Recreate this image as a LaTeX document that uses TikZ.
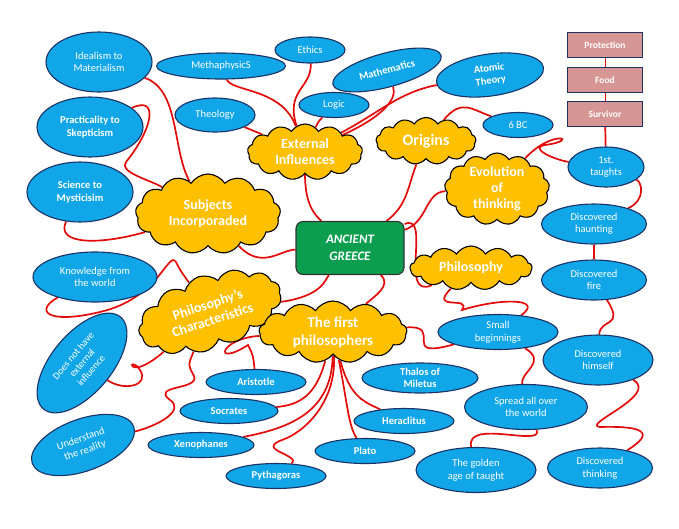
\documentclass[tikz,border=0pt]{standalone}
\usepackage{fontspec}
\setmainfont{Carlito}
\usetikzlibrary{shapes.geometric,shapes.symbols}
\pgfdeclarelayer{background}
\pgfsetlayers{background,main}
\definecolor{skyb}{RGB}{16,166,232}
\definecolor{navy}{RGB}{28,50,100}
\definecolor{gold}{RGB}{255,192,0}
\definecolor{rose}{RGB}{214,150,148}
\definecolor{grn}{RGB}{10,158,78}
\definecolor{redc}{RGB}{228,10,10}
\begin{document}
\begin{tikzpicture}[x=1pt,y=-1pt,
  bub/.style={ellipse, draw=navy, line width=1.1pt, fill=skyb, text=white, font=\fontsize{10.5}{12.5}\selectfont, align=center, inner sep=0pt},
  bbub/.style={bub, font=\fontsize{10.5}{12.5}\selectfont\bfseries},
  cld/.style={cloud, cloud puffs=13, cloud puff arc=115, cloud ignores aspect, draw=black, line width=1.1pt, fill=gold, text=white, font=\fontsize{14}{16}\selectfont\bfseries, align=center, inner sep=0pt},
  rbox/.style={rectangle, draw=navy, line width=1.1pt, fill=rose, text=white, font=\fontsize{9.5}{11}\selectfont\bfseries, minimum width=75pt, minimum height=25pt},
  conn/.style={draw=redc, line width=1.7pt},
  thin conn/.style={draw=redc, line width=0.7pt}]
\begin{pgfonlayer}{background}
\useasboundingbox[fill=white] (0,0) rectangle (679,528);
\end{pgfonlayer}

% ---------- nodes ----------
\node[bub, minimum width=106pt, minimum height=60pt] (ideal) at (99,62) {Idealism to\\Materialism};
\node[bub, minimum width=129pt, minimum height=26pt] (meta) at (221,66) {MethaphysicS};
\node[bub, minimum width=70pt, minimum height=26pt] (ethics) at (310,50) {Ethics};
\node[bbub, minimum width=112pt, minimum height=34pt, rotate=15] (math) at (387,70) {Mathematics};
\node[bbub, minimum width=108pt, minimum height=42pt, rotate=8] (atomic) at (490,75) {Atomic\\Theory};
\node[bub, minimum width=70pt, minimum height=25pt] (logic) at (334,105) {Logic};
\node[bub, minimum width=80pt, minimum height=34pt] (theo) at (215,115) {Theology};
\node[bbub, minimum width=106pt, minimum height=60pt] (pract) at (90,127) {Practicality to\\Skepticism};
\node[bbub, minimum width=106pt, minimum height=60pt] (sci) at (80,192) {Science to\\Mysticisim};
\node[bub, minimum width=124pt, minimum height=50pt] (know) at (95,277) {Knowledge from\\the world};
\node[bub, minimum width=120pt, minimum height=60pt, rotate=50, font=\fontsize{10}{11.5}\selectfont] (does) at (82,363) {Does not have\\external\\influence};
\node[bub, minimum width=108pt, minimum height=52pt, rotate=20] (under) at (83,445) {Understand\\the reality};
\node[bbub, minimum width=100pt, minimum height=25pt] (arist) at (256,382) {Aristotle};
\node[bbub, minimum width=98pt, minimum height=25pt] (socr) at (229,411) {Socrates};
\node[bbub, minimum width=106pt, minimum height=25pt] (xeno) at (201,445) {Xenophanes};
\node[bbub, minimum width=100pt, minimum height=25pt] (pyth) at (276,476) {Pythagoras};
\node[bbub, minimum width=100pt, minimum height=25pt] (plato) at (365,451) {Plato};
\node[bbub, minimum width=100pt, minimum height=25pt] (hera) at (404,421) {Heraclitus};
\node[bbub, minimum width=116pt, minimum height=30pt] (thal) at (420,378) {Thalos of\\Miletus};
\node[bub, minimum width=120pt, minimum height=35pt] (small) at (498,332) {Small\\beginnings};
\node[bub, minimum width=123pt, minimum height=45pt] (spread) at (526,407) {Spread all over\\the world};
\node[bub, minimum width=120pt, minimum height=45pt] (golden) at (476,470) {The golden\\age of taught};
\node[bub, minimum width=105pt, minimum height=40pt] (dthink) at (600,468) {Discovered\\thinking};
\node[bub, minimum width=110pt, minimum height=50pt] (dhim) at (598,360) {Discovered\\himself};
\node[bub, minimum width=105pt, minimum height=40pt] (dfire) at (594,280) {Discovered\\fire};
\node[bub, minimum width=105pt, minimum height=40pt] (dhaunt) at (594,224) {Discovered\\haunting};
\node[bub, minimum width=76pt, minimum height=40pt] (first) at (606,167) {1st.\\taughts};
\node[bub, minimum width=70pt, minimum height=25pt] (bc) at (518,125) {6 BC};
\node[rbox] (prot) at (605,45) {Protection};
\node[rbox] (food) at (605,80) {Food};
\node[rbox] (surv) at (605,114) {Survivor};

\node[cld, minimum width=115pt, minimum height=56pt] (ext) at (305,152) {External\\Influences};
\node[cld, minimum width=100pt, minimum height=47pt, font=\fontsize{16}{18}\selectfont\bfseries] (orig) at (426,141) {Origins};
\node[cld, minimum width=105pt, minimum height=72pt] (evol) at (497,189) {Evolution\\of\\thinking};
\node[cld, minimum width=145pt, minimum height=80pt] (subj) at (208,214) {Subjects\\Incorporaded};
\node[cld, minimum width=122pt, minimum height=44pt] (philo) at (471,268) {Philosophy};
\node[cld, minimum width=148pt, minimum height=74pt, rotate=18] (pchar) at (210,312) {Philosophy’s\\Characteristics};
\node[cld, minimum width=148pt, minimum height=62pt, font=\fontsize{15}{18}\selectfont\bfseries] (fphil) at (333,332) {The first\\philosophers};
\node[rectangle, rounded corners=7pt, draw=black!80, line width=1.1pt, fill=grn, text=white, font=\fontsize{13}{17}\selectfont\bfseries\itshape, align=center, minimum width=108pt, minimum height=53pt] (greece) at (350,248) {ANCIENT\\GREECE};

% ---------- connectors ----------
\begin{pgfonlayer}{background}
\draw[conn] (ideal) .. controls (180,90) and (172,150) .. (subj);
\draw[conn] (pract) .. controls (160,95) and (152,130) .. (126,162) .. controls (118,172) and (150,180) .. (subj);
\draw[conn] (sci) .. controls (55,245) and (100,245) .. (subj);
\draw[conn] (know) .. controls (35,310) and (45,325) .. (100,312) .. controls (160,298) and (168,250) .. (176,262) .. controls (180,270) .. (pchar);
\draw[conn] (does) .. controls (125,392) and (150,385) .. (140,370) .. controls (128,352) and (125,385) .. (pchar);
\draw[conn] (under) .. controls (160,425) and (185,410) .. (170,400) .. controls (150,385) and (200,390) .. (194,376) .. controls (188,365) .. (pchar);
\draw[conn] (subj) .. controls (262,270) and (280,250) .. (greece);
\draw[conn] (ext) .. controls (305,205) and (315,215) .. (greece);
\draw[conn] (atomic) .. controls (400,92) and (380,112) .. (ext);
\draw[conn] (math) .. controls (398,100) and (380,118) .. (ext);
\draw[conn] (logic) .. controls (318,122) .. (ext);
\draw[conn] (ethics) .. controls (312,88) and (285,90) .. (ext);
\draw[conn] (meta) .. controls (232,92) and (282,88) .. (ext);
\draw[conn] (theo) -- (ext);
\draw[conn] (orig) .. controls (408,185) and (408,205) .. (greece);
\draw[conn] (orig) .. controls (462,98) and (472,110) .. (bc);
\draw[conn] (evol) .. controls (425,192) and (428,222) .. (greece);
\draw[conn] (evol) .. controls (553,128) and (582,140) .. (545,145) .. controls (528,148) and (555,160) .. (first);
\draw[conn] (surv) -- (first);
\draw[thin conn] (prot) -- (food);
\draw[thin conn] (food) -- (surv);
\draw[conn] (first) .. controls (642,182) and (646,200) .. (dhaunt);
\draw[conn] (dhaunt) -- (dfire);
\draw[conn] (dfire) .. controls (625,328) and (600,318) .. (dhim);
\draw[conn] (dhim) .. controls (660,395) and (580,425) .. (600,427) .. controls (665,425) and (640,442) .. (dthink);
\draw[conn] (greece) .. controls (432,212) and (398,300) .. (philo);
\draw[conn] (philo) .. controls (428,312) and (472,295) .. (462,310) .. controls (500,298) and (545,298) .. (small);
\draw[conn] (small) .. controls (548,362) and (520,372) .. (spread);
\draw[conn] (spread) .. controls (545,448) and (465,418) .. (golden);
\draw[conn] (fphil) .. controls (445,325) and (398,360) .. (small);
\draw[conn] (fphil) .. controls (220,338) and (212,368) .. (248,345) .. controls (253,355) .. (arist);
\draw[conn] (fphil) .. controls (316,395) and (300,405) .. (socr);
\draw[conn] (fphil) .. controls (332,412) and (290,428) .. (xeno);
\draw[conn] (fphil) .. controls (336,402) and (305,432) .. (282,440) .. controls (255,450) and (302,455) .. (pyth);
\draw[conn] (fphil) .. controls (347,400) and (348,425) .. (plato);
\draw[conn] (fphil) .. controls (350,398) and (365,402) .. (hera);
\draw[conn] (pchar) .. controls (322,296) and (325,280) .. (greece);
\draw[conn] (greece) .. controls (392,285) and (375,296) .. (fphil);
\end{pgfonlayer}
\end{tikzpicture}
\end{document}
